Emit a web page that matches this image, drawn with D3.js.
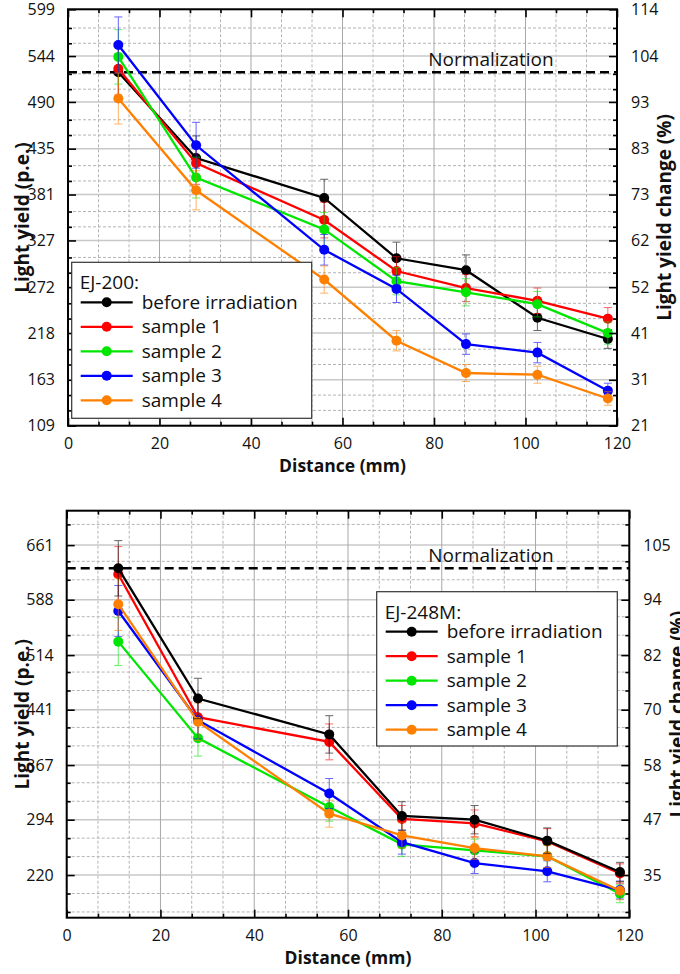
<!DOCTYPE html>
<html>
<head>
<meta charset="utf-8">
<script src="https://cdn.jsdelivr.net/npm/d3@7"></script>
<style>
  html, body { margin: 0; padding: 0; background: #fff; }
  svg { display: block; }
  text { font-family: "Open Sans", "DejaVu Sans", sans-serif; fill: #111; }
</style>
</head>
<body>
<svg id="chart" width="680" height="974"></svg>
<script>
// ---- data ----------------------------------------------------------
const seriesNames = ["before irradiation", "sample 1", "sample 2", "sample 3", "sample 4"];
const seriesColors = ["#000000", "#ff0000", "#00e600", "#0000ff", "#ff8000"];

// EJ-200
const ej200Distance = [11, 28, 56, 71.8, 87, 102.6, 118];
const ej200Before  = [525, 424, 377, 306, 292, 236, 211];
const ej200S1      = [529, 418, 351, 291, 271, 256, 235];
const ej200S2      = [543, 401, 340, 279, 266, 252, 218];
const ej200S3      = [557, 439, 316, 270, 205, 195, 150];
const ej200S4      = [494, 386, 281, 209, 171, 169, 141];
const ej200ErrBefore = [30, 26, 22, 19, 18, 15, 11];
const ej200ErrS1     = [31, 25, 21, 17, 16, 15, 13];
const ej200ErrS2     = [32, 24, 20, 16, 16, 15, 13];
const ej200ErrS3     = [33, 27, 18, 16, 12, 12, 9];
const ej200ErrS4     = [30, 23, 16, 12, 10, 10, 8];
const ej200Norm = 525;
const ej200LeftTicks  = [109, 163, 218, 272, 327, 381, 435, 490, 544, 599];
const ej200RightTicks = [21, 31, 41, 52, 62, 73, 83, 93, 104, 114];

// EJ-248M
const ej248Distance = [11, 28, 56, 71.5, 87, 102.5, 118];
const ej248Before  = [630, 456, 408, 299, 294, 266, 224];
const ej248S1      = [622, 431, 398, 295, 289, 265, 222];
const ej248S2      = [532, 403, 311, 261, 253, 245, 195];
const ej248S3      = [573, 427, 329, 264, 236, 225, 200];
const ej248S4      = [582, 425, 302, 273, 256, 245, 199];
const ej248ErrBefore = [37, 27, 25, 19, 19, 17, 13];
const ej248ErrS1     = [37, 26, 24, 18, 18, 17, 13];
const ej248ErrS2     = [32, 24, 19, 16, 15, 15, 12];
const ej248ErrS3     = [34, 25, 20, 16, 14, 14, 12];
const ej248ErrS4     = [35, 25, 18, 17, 15, 15, 12];
const ej248Norm = 630;
const ej248LeftTicks  = [220, 294, 367, 441, 514, 588, 661];
const ej248RightTicks = [35, 47, 58, 70, 82, 94, 105];

const xTicks = [0, 20, 40, 60, 80, 100, 120];

// ---- drawing -------------------------------------------------------
const svg = d3.select("#chart");

function makeSeries(values, errors) {
  return values.map((v, i) => ({ v, e: errors[i] }));
}

function drawPanel(cfg) {
  const g = svg.append("g");
  const x = d3.scaleLinear().domain([0, 120]).range([cfg.left, cfg.right]);
  const y = d3.scaleLinear().domain(cfg.yDomain).range([cfg.bottom, cfg.top]);

  // minor positions (thirds between labelled ticks, extended to the frame)
  const step = cfg.leftTicks[1] - cfg.leftTicks[0];
  const yMinor = [];
  for (let t = cfg.leftTicks[0] - step; t <= cfg.leftTicks[cfg.leftTicks.length - 1] + step; t += step / 3) {
    const isMajor = cfg.leftTicks.some(m => Math.abs(m - t) < step / 6);
    if (!isMajor && t > cfg.yDomain[0] + 0.5 && t < cfg.yDomain[1] - 0.5) yMinor.push(t);
  }
  const xMinor = [];
  for (let t = 0; t < 120; t += 20 / 3) {
    if (Math.abs(t / 20 - Math.round(t / 20)) > 0.01) xMinor.push(t);
  }

  const grid = g.append("g");
  grid.selectAll(".hmin").data(yMinor).join("line")
    .attr("x1", cfg.left).attr("x2", cfg.right)
    .attr("y1", d => y(d)).attr("y2", d => y(d))
    .attr("stroke", "#b4b4b4").attr("stroke-width", 1).attr("stroke-dasharray", "3,2");
  grid.selectAll(".vmin").data(xMinor).join("line")
    .attr("y1", cfg.top).attr("y2", cfg.bottom)
    .attr("x1", d => x(d)).attr("x2", d => x(d))
    .attr("stroke", "#b4b4b4").attr("stroke-width", 1).attr("stroke-dasharray", "3,2");
  grid.selectAll(".hmaj").data(cfg.leftTicks).join("line")
    .attr("x1", cfg.left).attr("x2", cfg.right)
    .attr("y1", d => y(d)).attr("y2", d => y(d))
    .attr("stroke", "#c8c8c8").attr("stroke-width", 1.5);
  grid.selectAll(".vmaj").data(xTicks).join("line")
    .attr("y1", cfg.top).attr("y2", cfg.bottom)
    .attr("x1", d => x(d)).attr("x2", d => x(d))
    .attr("stroke", "#a8a8a8").attr("stroke-width", 1);

  // normalization
  g.append("line")
    .attr("x1", cfg.left).attr("x2", cfg.right)
    .attr("y1", y(cfg.norm)).attr("y2", y(cfg.norm))
    .attr("stroke", "#000").attr("stroke-width", 2.5).attr("stroke-dasharray", "9,5");
  g.append("text")
    .attr("x", cfg.normX).attr("y", y(cfg.norm) - 6)
    .attr("text-anchor", "middle").attr("font-size", 19)
    .text("Normalization");

  // series
  const line = d3.line().x((d, i) => x(cfg.distance[i])).y(d => y(d.v));
  cfg.order.forEach(k => {
    const s = cfg.series[k];
    const col = seriesColors[k];
    const sg = g.append("g");
    sg.append("path").datum(s).attr("d", line)
      .attr("fill", "none").attr("stroke", col).attr("stroke-width", 2.3);
    const eb = sg.selectAll(".eb").data(s).join("g").attr("opacity", 0.6);
    eb.append("line")
      .attr("x1", (d, i) => x(cfg.distance[i])).attr("x2", (d, i) => x(cfg.distance[i]))
      .attr("y1", d => y(d.v - d.e)).attr("y2", d => y(d.v + d.e))
      .attr("stroke", col).attr("stroke-width", 1);
    [-1, 1].forEach(sign => {
      eb.append("line")
        .attr("x1", (d, i) => x(cfg.distance[i]) - 4).attr("x2", (d, i) => x(cfg.distance[i]) + 4)
        .attr("y1", d => y(d.v + sign * d.e)).attr("y2", d => y(d.v + sign * d.e))
        .attr("stroke", col).attr("stroke-width", 1);
    });
    sg.selectAll("circle").data(s).join("circle")
      .attr("cx", (d, i) => x(cfg.distance[i])).attr("cy", d => y(d.v))
      .attr("r", 5).attr("fill", col);
  });

  // frame and ticks
  const axes = g.append("g").attr("stroke", "#000").attr("stroke-width", 2);
  axes.append("rect")
    .attr("x", cfg.left).attr("y", cfg.top)
    .attr("width", cfg.right - cfg.left).attr("height", cfg.bottom - cfg.top)
    .attr("fill", "none");

  const gxb = g.append("g").attr("transform", `translate(0,${cfg.bottom})`)
    .call(d3.axisBottom(x).tickValues(xTicks).tickSize(-8).tickFormat(d3.format("d")).tickPadding(12));
  const gxt = g.append("g").attr("transform", `translate(0,${cfg.top})`)
    .call(d3.axisTop(x).tickValues(xTicks).tickSize(-8).tickFormat(""));
  const gxbm = g.append("g").attr("transform", `translate(0,${cfg.bottom})`)
    .call(d3.axisBottom(x).tickValues(xMinor).tickSize(-4).tickFormat(""));
  const gxtm = g.append("g").attr("transform", `translate(0,${cfg.top})`)
    .call(d3.axisTop(x).tickValues(xMinor).tickSize(-4).tickFormat(""));

  const gyl = g.append("g").attr("transform", `translate(${cfg.left},0)`)
    .call(d3.axisLeft(y).tickValues(cfg.leftTicks).tickSize(-8).tickPadding(13).tickFormat(d3.format("d")));
  const gylm = g.append("g").attr("transform", `translate(${cfg.left},0)`)
    .call(d3.axisLeft(y).tickValues(yMinor).tickSize(-4).tickFormat(""));
  const gyr = g.append("g").attr("transform", `translate(${cfg.right},0)`)
    .call(d3.axisRight(y).tickValues(cfg.leftTicks).tickSize(-8).tickPadding(14)
      .tickFormat((d, i) => cfg.rightTicks[i]));
  const gyrm = g.append("g").attr("transform", `translate(${cfg.right},0)`)
    .call(d3.axisRight(y).tickValues(yMinor).tickSize(-4).tickFormat(""));

  [gxb, gxt, gxbm, gxtm, gyl, gylm, gyr, gyrm].forEach(a => {
    a.select(".domain").remove();
    a.selectAll(".tick line").attr("stroke", "#000").attr("stroke-width", 1.6);
    a.selectAll(".tick text").attr("font-size", 16).attr("fill", "#111")
      .attr("font-family", "\"Open Sans\", sans-serif");
  });

  // axis titles
  const midY = (cfg.top + cfg.bottom) / 2;
  g.append("text")
    .attr("x", (cfg.left + cfg.right) / 2).attr("y", cfg.xTitleY)
    .attr("text-anchor", "middle").attr("font-size", 17.5).attr("font-weight", "bold")
    .text("Distance (mm)");
  g.append("text")
    .attr("transform", `translate(${cfg.leftTitleX},${midY}) rotate(-90)`)
    .attr("text-anchor", "middle").attr("font-size", 19).attr("font-weight", "bold")
    .text("Light yield (p.e.)");
  g.append("text")
    .attr("transform", `translate(${cfg.rightTitleX},${midY}) rotate(-90)`)
    .attr("text-anchor", "middle").attr("font-size", 19).attr("font-weight", "bold")
    .text("Light yield change (%)");

  // legend
  const L = cfg.legend;
  const lg = g.append("g");
  lg.append("rect")
    .attr("x", L.x).attr("y", L.y).attr("width", L.w).attr("height", L.h)
    .attr("fill", "#fff").attr("stroke", "#333").attr("stroke-width", 1.2);
  lg.append("text").attr("x", L.x + 8).attr("y", L.y + 27)
    .attr("font-size", 19).text(cfg.title);
  seriesNames.forEach((name, k) => {
    const cy = L.y + 40 + k * 24.5;
    lg.append("line").attr("x1", L.x + 9).attr("x2", L.x + 61)
      .attr("y1", cy).attr("y2", cy).attr("stroke", seriesColors[k]).attr("stroke-width", 2.3);
    lg.append("circle").attr("cx", L.x + 35).attr("cy", cy).attr("r", 5).attr("fill", seriesColors[k]);
    lg.append("text").attr("x", L.x + 70).attr("y", cy + 6.5)
      .attr("font-size", 19).text(name);
  });
}

drawPanel({
  left: 68, right: 617, top: 9.3, bottom: 425.7,
  yDomain: [109, 599],
  leftTicks: ej200LeftTicks, rightTicks: ej200RightTicks,
  distance: ej200Distance,
  series: [
    makeSeries(ej200Before, ej200ErrBefore),
    makeSeries(ej200S1, ej200ErrS1),
    makeSeries(ej200S2, ej200ErrS2),
    makeSeries(ej200S3, ej200ErrS3),
    makeSeries(ej200S4, ej200ErrS4)
  ],
  order: [0, 1, 2, 3, 4],
  norm: ej200Norm, normX: 491,
  xTitleY: 472, leftTitleX: 29, rightTitleX: 671,
  title: "EJ-200:",
  legend: { x: 71.7, y: 262.3, w: 240, h: 156 }
});

drawPanel({
  left: 66.7, right: 629.3, top: 510.7, bottom: 917.7,
  yDomain: [163, 707],
  leftTicks: ej248LeftTicks, rightTicks: ej248RightTicks,
  distance: ej248Distance,
  series: [
    makeSeries(ej248Before, ej248ErrBefore),
    makeSeries(ej248S1, ej248ErrS1),
    makeSeries(ej248S2, ej248ErrS2),
    makeSeries(ej248S3, ej248ErrS3),
    makeSeries(ej248S4, ej248ErrS4)
  ],
  order: [1, 2, 3, 4, 0],
  norm: ej248Norm, normX: 491,
  xTitleY: 964, leftTitleX: 29, rightTitleX: 684,
  title: "EJ-248M:",
  legend: { x: 376.7, y: 591.7, w: 240.6, h: 154.3 }
});
</script>
</body>
</html>
